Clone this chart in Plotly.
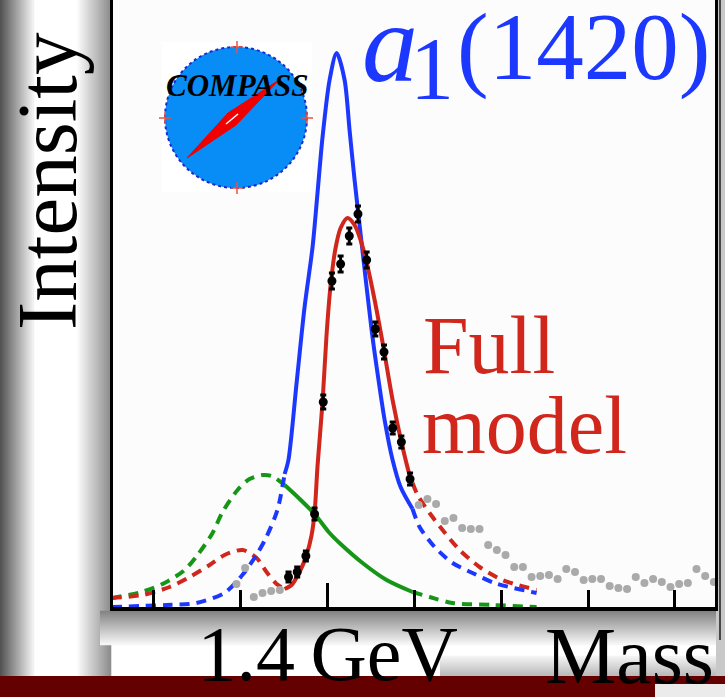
import plotly.graph_objects as go

W, H = 725, 697
SERIF = "Liberation Serif"

# ---------------- data (mass in GeV, intensity in arbitrary units) ----------------
data_mass = [1.355, 1.365, 1.375, 1.385, 1.395, 1.405, 1.415, 1.425, 1.435, 1.445,
             1.455, 1.465, 1.475, 1.485, 1.495]
data_int = [30, 35, 51, 93, 205, 326, 343, 371, 393, 347, 278, 255, 179, 165, 128]
data_err = [5, 5, 5, 6, 7, 8, 8, 8, 8, 8, 7, 7, 6, 6, 6]

gray_left_mass = [1.295, 1.305, 1.315, 1.325, 1.335, 1.345]
gray_left_int = [23, 39, 10, 14, 16, 17]

gray_right_mass = [1.505, 1.515, 1.525, 1.535, 1.545, 1.555, 1.565, 1.575, 1.585, 1.595,
                   1.605, 1.615, 1.625, 1.635, 1.645, 1.655, 1.665, 1.675, 1.685, 1.695,
                   1.705, 1.715, 1.725, 1.735, 1.745, 1.755, 1.765, 1.775, 1.785, 1.795,
                   1.805, 1.815, 1.825, 1.835, 1.845]
gray_right_int = [102, 108, 103, 86, 89, 79, 78, 78, 62, 57,
                  52, 40, 40, 30, 31, 32, 28, 38, 35, 27,
                  28, 28, 21, 19, 18, 30, 24, 28, 25, 20,
                  23, 24, 38, 31, 25]

# a1(1420) component
blue_dl_mass = [1.1512, 1.2143, 1.2488, 1.2811, 1.3018, 1.3180, 1.3295, 1.3422, 1.3505]
blue_dl_int = [0, 2, 4, 14, 32, 52, 70, 97, 133]
blue_mass = [1.3505, 1.3549, 1.3643, 1.3735, 1.3827, 1.3885, 1.3942, 1.4023, 1.4104,
             1.4196, 1.4253, 1.4311, 1.4392, 1.4507, 1.4565, 1.4657, 1.4749, 1.4841, 1.4979]
blue_int = [133, 147, 224, 300, 360, 415, 470, 527, 554,
            527, 477, 427, 364, 277, 240, 187, 147, 120, 98]
blue_dr_mass = [1.4979, 1.5060, 1.5233, 1.5440, 1.5670, 1.5924, 1.6408]
blue_dr_int = [98, 80, 60, 44, 34, 24, 14]

# full model
red_dl_mass = [1.1512, 1.1869, 1.2180, 1.2410, 1.2641, 1.2813, 1.3021, 1.3182, 1.3297, 1.3413, 1.3505]
red_dl_int = [9, 12, 20, 30, 42, 52, 57, 49, 35, 23, 18]
red_mass = [1.3505, 1.3585, 1.3677, 1.3758, 1.3816, 1.3850, 1.3885, 1.3942, 1.3988, 1.4035,
            1.4092, 1.4150, 1.4230, 1.4311, 1.4380, 1.4449, 1.4542, 1.4645, 1.4749, 1.4853,
            1.4945, 1.4979]
red_int = [18, 22, 35, 52, 72, 94, 142, 205, 272, 322,
           359, 379, 389, 382, 367, 345, 307, 259, 207, 164,
           132, 124]
red_dr_mass = [1.4979, 1.5037, 1.5175, 1.5325, 1.5521, 1.5751, 1.6016, 1.6408]
red_dr_int = [124, 112, 94, 77, 57, 40, 27, 17]

# other component
green_dl_mass = [1.1512, 1.1857, 1.2122, 1.2353, 1.2502, 1.2675, 1.2790, 1.2963, 1.3101,
                 1.3251, 1.3355, 1.3505]
green_dl_int = [9, 15, 24, 37, 52, 74, 95, 117, 128, 132, 131, 122]
green_mass = [1.3505, 1.3643, 1.3850, 1.4023, 1.4138, 1.4403, 1.4680, 1.4979]
green_int = [122, 111, 93, 74, 64, 44, 27, 15]
green_dr_mass = [1.4979, 1.5175, 1.5440, 1.5901, 1.6408]
green_dr_int = [15, 10, 4, 2, 0]

major_tick = [1.4]
major_tick_text = ["1.4\u2009GeV"]
minor_ticks = [1.2, 1.3, 1.5, 1.6, 1.7, 1.8]

BLUE = "rgb(28,56,255)"
RED = "rgb(208,38,28)"
GREEN = "rgb(22,150,22)"
GRAY = "rgb(170,170,170)"
DASH = "10px,7px"
LW = 4

# ---------------- figure ----------------
fig = go.Figure()

def line(x, y, color, dash=None):
    fig.add_trace(go.Scatter(x=x, y=y, mode="lines", line=dict(color=color, width=LW, dash=dash, shape="spline", smoothing=0.8),
                             hoverinfo="skip", showlegend=False))

line(green_dl_mass, green_dl_int, GREEN, DASH)
line(green_dr_mass, green_dr_int, GREEN, DASH)
line(red_dl_mass, red_dl_int, RED, DASH)
line(red_dr_mass, red_dr_int, RED, DASH)
line(blue_dl_mass, blue_dl_int, BLUE, DASH)
line(blue_dr_mass, blue_dr_int, BLUE, DASH)

for gm, gi in ((gray_left_mass, gray_left_int), (gray_right_mass, gray_right_int)):
    fig.add_trace(go.Scatter(x=gm, y=gi, mode="markers", marker=dict(color=GRAY, size=8),
                             showlegend=False, hoverinfo="skip"))

line(green_mass, green_int, GREEN)
line(blue_mass, blue_int, BLUE)
line(red_mass, red_int, RED)

fig.add_trace(go.Scatter(x=data_mass, y=data_int, mode="markers",
                         marker=dict(color="black", size=9),
                         error_y=dict(type="data", array=data_err, color="black", thickness=3, width=3),
                         showlegend=False))

# ---------------- decorations (paper coordinates from pixels) ----------------
def fx(px):
    return px / W

def fy(py):
    return 1 - py / H

shapes = []

def rect(x0, y0, x1, y1, color, layer="below"):
    shapes.append(dict(type="rect", xref="paper", yref="paper", x0=fx(x0), x1=fx(x1), y0=fy(y1), y1=fy(y0),
                       fillcolor=color, line=dict(width=0), layer=layer))

def mix(c0, c1, t):
    return "rgb(%d,%d,%d)" % tuple(round(a + (b - a) * t) for a, b in zip(c0, c1))

def hgrad(x0, x1, y0, y1, c0, c1, n):
    for i in range(n):
        xa = x0 + (x1 - x0) * i / n
        xb = x0 + (x1 - x0) * (i + 1) / n
        rect(min(xa, xb) - 0.3, y0, max(xa, xb) + 0.3, y1, mix(c0, c1, (i + 0.5) / n))

def vgrad(x0, x1, y0, y1, c0, c1, n):
    for i in range(n):
        ya = y0 + (y1 - y0) * i / n
        yb = y0 + (y1 - y0) * (i + 1) / n
        rect(x0, min(ya, yb) - 0.3, x1, max(ya, yb) + 0.3, mix(c0, c1, (i + 0.5) / n))

# left slide shadow strip
hgrad(0, 34, 0, 676, (78, 78, 78), (245, 245, 245), 17)
hgrad(78, 111, 0, 676, (250, 250, 250), (140, 140, 140), 16)
# shadow below the axis
vgrad(100, 725, 611, 645, (130, 130, 130), (248, 248, 248), 17)
# soft grey band under the axis title
vgrad(440, 725, 656, 676, (246, 246, 246), (185, 185, 185), 10)
# right neighbour panel
rect(716, 0, 725, 676, "rgb(200,200,200)")
rect(719, 0, 721, 640, "rgb(70,70,70)")
# bottom bar
rect(0, 676, 725, 697, "rgb(100,0,0)")
rect(655, 684, 725, 697, "rgb(235,235,235)")

# COMPASS logo
rect(162, 42, 312, 192, "white")
shapes.append(dict(type="circle", xref="paper", yref="paper", x0=fx(165), x1=fx(307), y0=fy(188), y1=fy(47),
                   fillcolor="rgb(8,140,246)", line=dict(color="rgb(30,40,210)", width=2, dash="dot"), layer="below"))
for (ax, ay, bx, by) in [(237, 41, 237, 53), (231, 47, 243, 47), (237, 182, 237, 194), (231, 188, 243, 188),
                         (159, 118, 171, 118), (165, 112, 165, 124), (301, 118, 313, 118), (307, 112, 307, 124)]:
    shapes.append(dict(type="line", xref="paper", yref="paper", x0=fx(ax), y0=fy(ay), x1=fx(bx), y1=fy(by),
                       line=dict(color="rgb(240,80,60)", width=1.5), layer="below"))
needle = [(187, 158), (236, 125), (279, 80), (228, 113)]
path = "M " + " L ".join("%.5f,%.5f" % (fx(a), fy(b)) for a, b in needle) + " Z"
shapes.append(dict(type="path", xref="paper", yref="paper", path=path, fillcolor="rgb(240,0,0)",
                   line=dict(color="rgb(240,0,0)", width=1), layer="below"))
shapes.append(dict(type="line", xref="paper", yref="paper", x0=fx(226), y0=fy(124), x1=fx(238), y1=fy(114),
                   line=dict(color="white", width=1.5), layer="below"))

annotations = []

def text_at(text, x_px, base_px, size, color, xanchor="left"):
    top = base_px - 0.891 * size - 1
    annotations.append(dict(text=text, x=fx(x_px), y=fy(top), xref="paper", yref="paper",
                            xanchor=xanchor, yanchor="top", showarrow=False,
                            font=dict(family=SERIF, size=size, color=color)))

annotations.append(dict(text="Intensity", x=fx(47), y=fy(181), xref="paper", yref="paper",
                        xanchor="center", yanchor="middle", textangle=-90, showarrow=False,
                        font=dict(family=SERIF, size=85, color="black")))
text_at("<i>a</i>", 360, 80, 112, BLUE)
text_at("1", 408, 97, 88, BLUE)
text_at("(1420)", 455, 78, 95, BLUE)
text_at("Full", 421, 372, 82, RED)
text_at("model", 420, 452, 82, RED)
text_at("Mass", 543, 682, 80, "black")
text_at("<b><i>COMPASS</i></b>", 237, 95, 31, "black", xanchor="center")

fig.update_layout(
    width=W, height=H,
    margin=dict(l=0, r=0, t=0, b=0, pad=0),
    paper_bgcolor="white",
    plot_bgcolor="rgb(252,252,252)",
    shapes=shapes,
    annotations=annotations,
    showlegend=False,
    xaxis=dict(domain=[fx(113), fx(715)], range=[1.1528, 1.8463], automargin=False,
               showgrid=False, zeroline=False,
               showline=True, linewidth=4, linecolor="black", mirror=False,
               tickmode="array", tickvals=major_tick, ticktext=major_tick_text,
               ticks="inside", ticklen=24, tickwidth=3, tickcolor="black",
               ticklabelstandoff=-25,
               tickfont=dict(family=SERIF, size=78, color="black"),
               minor=dict(tickmode="array", tickvals=minor_ticks, ticks="inside", ticklen=17,
                          tickwidth=3, tickcolor="black", showgrid=False)),
    yaxis=dict(domain=[fy(607), 1.0], range=[0, 607], automargin=False,
               showgrid=False, zeroline=False, showticklabels=False, ticks="",
               showline=True, linewidth=3, linecolor="black", mirror=True),
)

fig.write_html("out.html", config={"displayModeBar": False},
               post_script="document.body.style.margin='0';document.body.style.overflow='hidden';")
